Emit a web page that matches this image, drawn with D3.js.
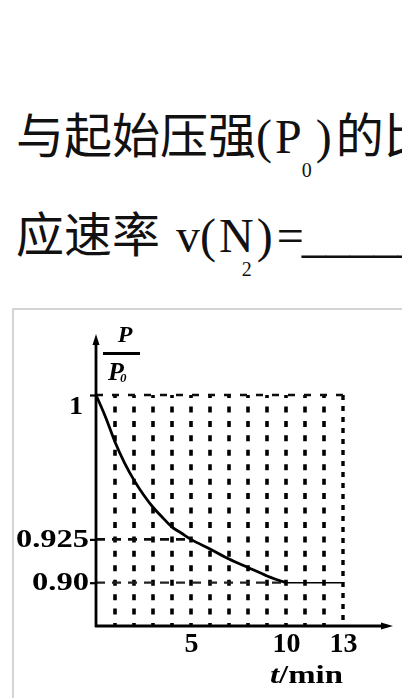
<!DOCTYPE html>
<html>
<head>
<meta charset="utf-8">
<script src="https://cdn.jsdelivr.net/npm/d3@7/dist/d3.min.js"></script>
<style>
  html, body { margin: 0; padding: 0; background: #fff; }
  svg { display: block; }
</style>
</head>
<body>
<svg id="chart" width="402" height="698"></svg>
<script>
// Pressure ratio P/P0 against time (min)
const curveTimes  = [0, 0.5, 1, 1.5, 2, 2.5, 3, 3.5, 4, 4.5, 5, 6, 7, 8, 9, 10];
const curveRatios = [1, 0.9886, 0.9756, 0.9648, 0.9558, 0.9482, 0.9417, 0.9364, 0.9314, 0.9282, 0.925, 0.9195, 0.9137, 0.9088, 0.9039, 0.90];
const plateauTimes = [10, 13];
const plateauRatio = 0.90;
const yTickValues = [1, 0.925, 0.90];
const yTickLabels = ["1", "0.925", "0.90"];
const xTickValues = [5, 10, 13];
const gridTimes = [1, 2, 3, 4, 5, 6, 7, 8, 9, 10, 11, 12];
const yFloor = 0.875;
const tMax = 13;

const svg = d3.select("#chart");
const serif = "'Liberation Serif', 'DejaVu Serif', serif";
const cjk = "'Liberation Serif', 'Noto Sans CJK SC', serif";

// ---- question text above the figure ----
const line1 = svg.append("text")
  .attr("x", 16).attr("y", 153)
  .attr("font-family", cjk).attr("font-size", 48).attr("fill", "#111");
line1.append("tspan").text("与起始压强(");
line1.append("tspan").attr("dx", 3).text("P");
line1.append("tspan").attr("font-size", 20).attr("dy", 24).text("0");
line1.append("tspan").attr("dy", -24).attr("dx", 4).text(")");
line1.append("tspan").attr("dx", 4).text("的比");

const line2 = svg.append("text")
  .attr("x", 16).attr("y", 252)
  .attr("font-family", cjk).attr("font-size", 48).attr("fill", "#111");
line2.append("tspan").text("应速率");
line2.append("tspan").attr("dx", 16).text("v(");
line2.append("tspan").attr("dx", 3).text("N");
line2.append("tspan").attr("font-size", 20).attr("dx", -12).attr("dy", 24).text("2");
line2.append("tspan").attr("dy", -24).attr("dx", 5).text(")");
line2.append("tspan").attr("dx", 4).text("=");
line2.append("tspan").attr("dx", -2).text("_____");

// ---- framed figure ----
svg.append("rect")
  .attr("x", 13).attr("y", 309).attr("width", 420).attr("height", 420)
  .attr("fill", "none").attr("stroke", "#c6c6c6").attr("stroke-width", 1.5);

const defs = svg.append("defs");
defs.append("filter").attr("id", "soft")
  .append("feGaussianBlur").attr("stdDeviation", 0.6);

const g = svg.append("g").attr("filter", "url(#soft)");

const x = d3.scaleLinear().domain([0, tMax]).range([96, 343]);
const y = d3.scaleLinear().domain([yFloor, 0.90, 0.925, 1]).range([626, 582.7, 539.4, 395]);

// dotted vertical guides, one per minute
const rowStep = (y(yFloor) - y(1)) / 16;
g.selectAll("line.grid").data(gridTimes).join("line")
  .attr("class", "grid")
  .attr("x1", d => x(d)).attr("x2", d => x(d))
  .attr("y1", y(1)).attr("y2", y(yFloor))
  .attr("stroke", "#000").attr("stroke-width", 3.6)
  .attr("stroke-dasharray", `6 ${rowStep - 6}`)
  .attr("stroke-dashoffset", 3);

// dashed frame at t = 13 and P/P0 = 1
g.append("line")
  .attr("x1", x(tMax)).attr("x2", x(tMax))
  .attr("y1", y(1)).attr("y2", y(yFloor))
  .attr("stroke", "#000").attr("stroke-width", 3.4)
  .attr("stroke-dasharray", "5 6");
g.append("line")
  .attr("x1", x(0)).attr("x2", x(tMax))
  .attr("y1", y(1)).attr("y2", y(1))
  .attr("stroke", "#111").attr("stroke-width", 2.6)
  .attr("stroke-dasharray", "7 9");

// dashed reference levels
g.append("line")
  .attr("x1", x(0)).attr("x2", x(5))
  .attr("y1", y(0.925)).attr("y2", y(0.925))
  .attr("stroke", "#111").attr("stroke-width", 2.8)
  .attr("stroke-dasharray", "9 7");
g.append("line")
  .attr("x1", x(0)).attr("x2", x(10))
  .attr("y1", y(0.90)).attr("y2", y(0.90))
  .attr("stroke", "#222").attr("stroke-width", 2.2)
  .attr("stroke-dasharray", "9 7");

// pressure-ratio curve
const pts = curveTimes.map((t, i) => ({ t, r: curveRatios[i] }));
g.append("path")
  .datum(pts)
  .attr("fill", "none").attr("stroke", "#000").attr("stroke-width", 2.8)
  .attr("d", d3.line().x(d => x(d.t)).y(d => y(d.r)).curve(d3.curveMonotoneX));
g.append("path")
  .datum(plateauTimes.map(t => ({ t, r: plateauRatio })))
  .attr("fill", "none").attr("stroke", "#000").attr("stroke-width", 1.6)
  .attr("d", d3.line().x(d => x(d.t)).y(d => y(d.r)));

// axes with arrowheads
const yTop = 334, xEnd = 393;
g.append("line")
  .attr("x1", x(0)).attr("x2", x(0)).attr("y1", y(yFloor) + 1).attr("y2", yTop + 6)
  .attr("stroke", "#000").attr("stroke-width", 2.8);
g.append("path")
  .attr("d", `M${x(0)},${yTop} L${x(0) - 3.5},${yTop + 11} L${x(0) + 3.5},${yTop + 11} Z`)
  .attr("fill", "#000");
g.append("line")
  .attr("x1", x(0) - 1).attr("x2", xEnd - 6).attr("y1", y(yFloor)).attr("y2", y(yFloor))
  .attr("stroke", "#000").attr("stroke-width", 2.8);
g.append("path")
  .attr("d", `M${xEnd},${y(yFloor)} L${xEnd - 12},${y(yFloor) - 3.5} L${xEnd - 12},${y(yFloor) + 3.5} Z`)
  .attr("fill", "#000");

// y ticks and labels
const yAxis = d3.axisLeft(y)
  .tickValues(yTickValues)
  .tickFormat((d, i) => yTickLabels[i])
  .tickSize(6).tickPadding(1);
const ya = g.append("g").attr("transform", `translate(${x(0)},0)`).call(yAxis);
ya.select(".domain").remove();
ya.selectAll(".tick line").attr("stroke", "#000").attr("stroke-width", 2.2);
ya.selectAll(".tick text")
  .attr("font-family", serif).attr("font-weight", "bold").attr("font-size", 26)
  .attr("fill", "#000").attr("dy", "0.28em")
  .attr("textLength", d => d === 1 ? 14 : (d === 0.925 ? 73 : 57))
  .attr("lengthAdjust", "spacingAndGlyphs");
// the "1" sits just below the top dashed line
ya.selectAll(".tick").filter(d => d === 1).select("text").attr("dy", "0.7em").attr("x", -13);

// x ticks and labels
const xAxis = d3.axisBottom(x).tickValues(xTickValues).tickSize(0).tickPadding(6);
const xa = g.append("g").attr("transform", `translate(0,${y(yFloor)})`).call(xAxis);
xa.select(".domain").remove();
xa.selectAll(".tick text")
  .attr("font-family", serif).attr("font-weight", "bold").attr("font-size", 28)
  .attr("fill", "#000");

// axis titles
const xt = g.append("text")
  .attr("x", 270).attr("y", 683)
  .attr("font-family", serif).attr("font-size", 25).attr("fill", "#000")
  .attr("textLength", 73).attr("lengthAdjust", "spacingAndGlyphs");
xt.append("tspan").attr("font-style", "italic").attr("font-weight", "bold").text("t");
xt.append("tspan").attr("font-weight", "bold").text("/min");

const yl = g.append("g");
yl.append("text")
  .attr("x", 125).attr("y", 342).attr("text-anchor", "middle")
  .attr("font-family", serif).attr("font-style", "italic").attr("font-weight", "bold")
  .attr("font-size", 24).attr("fill", "#000").text("P");
yl.append("line")
  .attr("x1", 103).attr("x2", 140).attr("y1", 353.5).attr("y2", 353.5)
  .attr("stroke", "#000").attr("stroke-width", 3);
const den = yl.append("text")
  .attr("x", 108).attr("y", 380)
  .attr("font-family", serif).attr("font-style", "italic").attr("font-weight", "bold")
  .attr("font-size", 26).attr("fill", "#000");
den.append("tspan").text("P");
den.append("tspan").attr("font-size", 13).attr("dy", 2).attr("dx", -4).text("0");
</script>
</body>
</html>
